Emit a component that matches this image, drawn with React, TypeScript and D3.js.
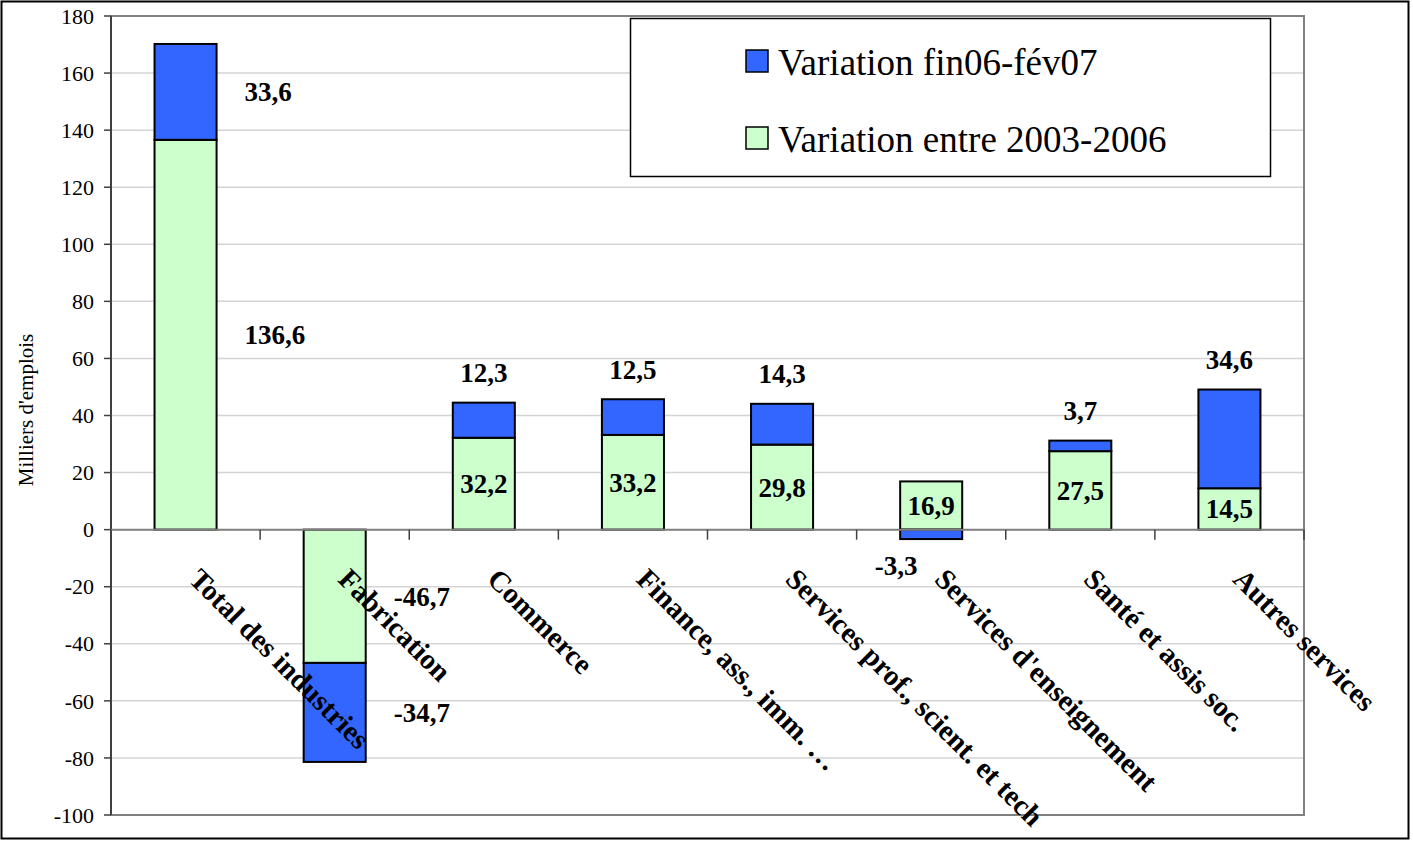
import { useMemo } from "react";
import * as d3 from "d3";

// ————— Données —————
const categories = [
  "Total des industries",
  "Fabrication",
  "Commerce",
  "Finance, ass., imm. …",
  "Services prof., scient. et tech",
  "Services d'enseignement",
  "Santé et assis soc.",
  "Autres services",
];
const var2003_2006 = [136.6, -46.7, 32.2, 33.2, 29.8, 16.9, 27.5, 14.5];
const varFin06Fev07 = [33.6, -34.7, 12.3, 12.5, 14.3, -3.3, 3.7, 34.6];
const yTicks = [-100, -80, -60, -40, -20, 0, 20, 40, 60, 80, 100, 120, 140, 160, 180];
const seriesNames = ["Variation fin06-fév07", "Variation entre 2003-2006"];

// where each label sits relative to its segment (as in the source chart)
const blueLabelMode = ["right", "right", "top", "top", "top", "below", "top", "top"];
const greenLabelMode = ["right", "right", "inside", "inside", "inside", "inside", "inside", "inside"];

const W = 1413;
const H = 842;
const m = { left: 111, right: 1304, top: 16, bottom: 815 };
const BLUE = "#3366FF";
const GREEN = "#CCFFCC";
const FONT = "Liberation Serif";

const fmt = (v: number) => v.toFixed(1).replace(".", ",");

export default function App() {
  const rows = categories.map((c, i) => ({
    cat: c,
    green: var2003_2006[i],
    blue: varFin06Fev07[i],
  }));

  const stacked = useMemo(
    () =>
      d3
        .stack<any>()
        .keys(["green", "blue"])
        .offset(d3.stackOffsetDiverging)(rows),
    []
  );

  const x = d3.scaleBand().domain(categories).range([m.left, m.right]).padding(0);
  const y = d3.scaleLinear().domain([-100, 180]).range([m.bottom, m.top]);
  const step = x.step();
  const barW = step * 0.416;
  const cx = (c: string) => (x(c) ?? 0) + step / 2;

  const greenS = stacked[0];
  const blueS = stacked[1];

  return (
    <>
      <style>{`body{margin:0}`}</style>
      <svg width={W} height={H} style={{ display: "block" }} fontFamily={FONT}>
        <rect x={0} y={0} width={W} height={H} fill="#fff" />
        <rect x={1.5} y={1.5} width={1407} height={837} fill="none" stroke="#000" strokeWidth={2} />

        {/* grille */}
        {yTicks.map((t) => (
          <line key={"g" + t} x1={m.left} x2={m.right} y1={y(t)} y2={y(t)} stroke="#d4d4d4" strokeWidth={1.5} />
        ))}
        <rect
          x={m.left}
          y={m.top}
          width={m.right - m.left}
          height={m.bottom - m.top}
          fill="none"
          stroke="#808080"
          strokeWidth={2}
        />

        {/* axe Y */}
        <line x1={m.left} x2={m.left} y1={m.top} y2={m.bottom} stroke="#404040" strokeWidth={2} />
        {yTicks.map((t) => (
          <g key={"t" + t}>
            <line x1={m.left - 7} x2={m.left} y1={y(t)} y2={y(t)} stroke="#404040" strokeWidth={1.5} />
            <text x={m.left - 17} y={y(t)} dy="0.35em" textAnchor="end" fontSize={22} fontFamily={FONT}>
              {t}
            </text>
          </g>
        ))}
        <text
          transform={`translate(33,410) rotate(-90)`}
          textAnchor="middle"
          fontSize={21}
          fontFamily={FONT}
        >
          Milliers d'emplois
        </text>

        {/* barres */}
        {[greenS, blueS].map((s, si) =>
          s.map((d: any, i: number) => {
            const y0 = Math.min(y(d[0]), y(d[1]));
            const y1 = Math.max(y(d[0]), y(d[1]));
            return (
              <rect
                key={si + "-" + i}
                x={cx(categories[i]) - barW / 2}
                y={y0}
                width={barW}
                height={y1 - y0}
                fill={si === 0 ? GREEN : BLUE}
                stroke="#000"
                strokeWidth={2}
              />
            );
          })
        )}

        {/* axe zéro */}
        <line x1={m.left} x2={m.right} y1={y(0)} y2={y(0)} stroke="#808080" strokeWidth={2} />
        {d3.range(categories.length + 1).map((i) => (
          <line
            key={"xt" + i}
            x1={m.left + i * step}
            x2={m.left + i * step}
            y1={y(0)}
            y2={y(0) + 10}
            stroke="#404040"
            strokeWidth={1.5}
          />
        ))}

        {/* étiquettes de données */}
        {[greenS, blueS].map((s, si) =>
          s.map((d: any, i: number) => {
            const mode = si === 0 ? greenLabelMode[i] : blueLabelMode[i];
            const v = si === 0 ? var2003_2006[i] : varFin06Fev07[i];
            const c = cx(categories[i]);
            const mid = y((d[0] + d[1]) / 2);
            const top = y(Math.max(d[0], d[1]));
            const bot = y(Math.min(d[0], d[1]));
            let lx = c;
            let ly = mid;
            let anchor: "start" | "middle" = "middle";
            if (mode === "right") {
              lx = c + barW / 2 + 28;
              anchor = "start";
            } else if (mode === "top") {
              ly = top - 30;
            } else if (mode === "below") {
              lx = c - 35;
              ly = bot + 26;
            }
            return (
              <text
                key={"l" + si + i}
                x={lx}
                y={ly}
                dy="0.35em"
                textAnchor={anchor}
                fontSize={27}
                fontWeight="bold"
                fontFamily={FONT}
              >
                {fmt(v)}
              </text>
            );
          })
        )}

        {/* catégories */}
        {categories.map((c) => (
          <text
            key={"c" + c}
            transform={`translate(${cx(c) + 2},${y(0) + 51}) rotate(45)`}
            fontSize={29}
            fontWeight="bold"
            fontFamily={FONT}
          >
            {c}
          </text>
        ))}

        {/* légende */}
        <rect x={630.5} y={18.5} width={640} height={158} fill="#fff" stroke="#000" strokeWidth={1.5} />
        {seriesNames.map((n, i) => (
          <g key={n} transform={`translate(746,${50 + i * 77})`}>
            <rect x={0} y={0} width={22} height={22} fill={i === 0 ? BLUE : GREEN} stroke="#000" strokeWidth={1.5} />
            <text x={32} y={12} dy="0.35em" fontSize={37} fontFamily={FONT}>
              {n}
            </text>
          </g>
        ))}
      </svg>
    </>
  );
}
